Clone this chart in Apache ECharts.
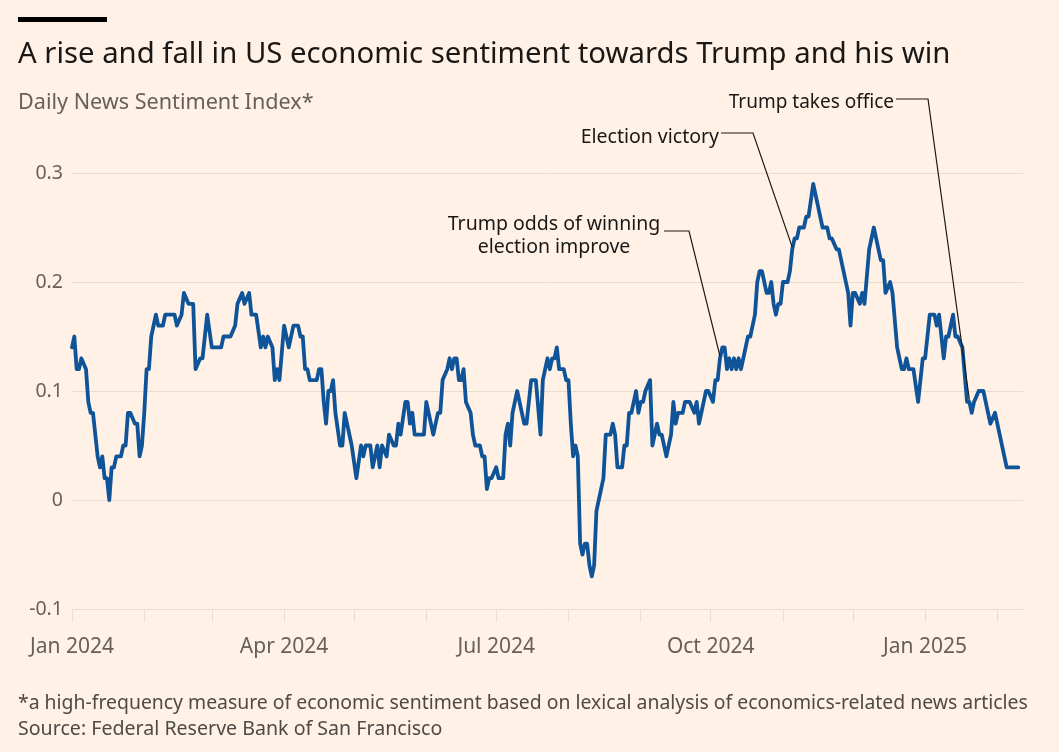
<!DOCTYPE html>
<html><head><meta charset="utf-8">
<script src="https://cdn.jsdelivr.net/npm/echarts@6/dist/echarts.min.js"></script>
<style>html,body{margin:0;padding:0;background:#FFF1E5;} #c{width:1059px;height:752px;}</style>
</head><body><div id="c"></div>
<script>
// ---------- DATA ----------
const dates = [
'2024-01-01','2024-01-02','2024-01-03','2024-01-04','2024-01-05','2024-01-07','2024-01-08','2024-01-09','2024-01-10','2024-01-12',
'2024-01-13','2024-01-14','2024-01-15','2024-01-16','2024-01-17','2024-01-18','2024-01-19','2024-01-20','2024-01-22','2024-01-23',
'2024-01-24','2024-01-25','2024-01-26','2024-01-28','2024-01-29','2024-01-30','2024-01-31','2024-02-01','2024-02-02','2024-02-03',
'2024-02-04','2024-02-06','2024-02-07','2024-02-09','2024-02-10','2024-02-14','2024-02-15','2024-02-17','2024-02-18','2024-02-20',
'2024-02-22','2024-02-23','2024-02-25','2024-02-26','2024-02-27','2024-02-28','2024-03-01','2024-03-05','2024-03-06','2024-03-09',
'2024-03-11','2024-03-12','2024-03-14','2024-03-15','2024-03-17','2024-03-18','2024-03-20','2024-03-22','2024-03-23','2024-03-24',
'2024-03-25','2024-03-27','2024-03-28','2024-03-29','2024-03-30','2024-04-01','2024-04-03','2024-04-05','2024-04-07','2024-04-08',
'2024-04-09','2024-04-10','2024-04-11','2024-04-12','2024-04-15','2024-04-16','2024-04-17','2024-04-18','2024-04-19','2024-04-20',
'2024-04-21','2024-04-22','2024-04-23','2024-04-25','2024-04-26','2024-04-27','2024-04-28','2024-04-30','2024-05-02','2024-05-04',
'2024-05-05','2024-05-06','2024-05-08','2024-05-09','2024-05-11','2024-05-12','2024-05-13','2024-05-15','2024-05-16','2024-05-18',
'2024-05-19','2024-05-20','2024-05-21','2024-05-23','2024-05-24','2024-05-25','2024-05-26','2024-05-27','2024-05-31','2024-06-01',
'2024-06-02','2024-06-04','2024-06-05','2024-06-06','2024-06-07','2024-06-08','2024-06-10','2024-06-11','2024-06-12','2024-06-13',
'2024-06-14','2024-06-15','2024-06-16','2024-06-17','2024-06-18','2024-06-20','2024-06-21','2024-06-22','2024-06-24','2024-06-25',
'2024-06-26','2024-06-27','2024-06-28','2024-06-29','2024-07-01','2024-07-02','2024-07-04','2024-07-05','2024-07-06','2024-07-07',
'2024-07-08','2024-07-09','2024-07-10','2024-07-11','2024-07-13','2024-07-14','2024-07-15','2024-07-16','2024-07-18','2024-07-20',
'2024-07-21','2024-07-22','2024-07-23','2024-07-24','2024-07-25','2024-07-26','2024-07-27','2024-07-28','2024-07-30','2024-07-31',
'2024-08-01','2024-08-02','2024-08-03','2024-08-04','2024-08-05','2024-08-06','2024-08-07','2024-08-08','2024-08-09','2024-08-10',
'2024-08-11','2024-08-12','2024-08-13','2024-08-14','2024-08-16','2024-08-17','2024-08-19','2024-08-20','2024-08-21','2024-08-22',
'2024-08-24','2024-08-25','2024-08-26','2024-08-27','2024-08-28','2024-08-30','2024-08-31','2024-09-01','2024-09-02','2024-09-03',
'2024-09-05','2024-09-06','2024-09-08','2024-09-09','2024-09-10','2024-09-12','2024-09-14','2024-09-15','2024-09-16','2024-09-17',
'2024-09-19','2024-09-20','2024-09-22','2024-09-24','2024-09-25','2024-09-26','2024-09-29','2024-09-30','2024-10-02','2024-10-03',
'2024-10-04','2024-10-05','2024-10-06','2024-10-07','2024-10-08','2024-10-09','2024-10-10','2024-10-11','2024-10-12','2024-10-13',
'2024-10-14','2024-10-15','2024-10-17','2024-10-18','2024-10-19','2024-10-20','2024-10-21','2024-10-22','2024-10-23','2024-10-25',
'2024-10-26','2024-10-27','2024-10-28','2024-10-29','2024-10-30','2024-10-31','2024-11-01','2024-11-03','2024-11-04','2024-11-05',
'2024-11-06','2024-11-07','2024-11-08','2024-11-10','2024-11-11','2024-11-12','2024-11-14','2024-11-16','2024-11-18','2024-11-20',
'2024-11-21','2024-11-22','2024-11-24','2024-11-25','2024-11-27','2024-11-29','2024-11-30','2024-12-01','2024-12-02','2024-12-04',
'2024-12-05','2024-12-06','2024-12-08','2024-12-10','2024-12-12','2024-12-13','2024-12-14','2024-12-15','2024-12-17','2024-12-18',
'2024-12-20','2024-12-22','2024-12-23','2024-12-24','2024-12-25','2024-12-27','2024-12-29','2024-12-31','2025-01-01','2025-01-03',
'2025-01-05','2025-01-06','2025-01-07','2025-01-09','2025-01-10','2025-01-11','2025-01-13','2025-01-14','2025-01-15','2025-01-17',
'2025-01-19','2025-01-20','2025-01-21','2025-01-22','2025-01-24','2025-01-26','2025-01-29','2025-01-31','2025-02-02','2025-02-05',
'2025-02-10'
];
const values = [
0.14,0.15,0.12,0.12,0.13,0.12,0.09,0.08,0.08,0.04,
0.03,0.04,0.02,0.02,0.00,0.03,0.03,0.04,0.04,0.05,
0.05,0.08,0.08,0.07,0.07,0.04,0.05,0.08,0.12,0.12,
0.15,0.17,0.16,0.16,0.17,0.17,0.16,0.17,0.19,0.18,
0.18,0.12,0.13,0.13,0.15,0.17,0.14,0.14,0.15,0.15,
0.16,0.18,0.19,0.18,0.19,0.17,0.17,0.14,0.15,0.14,
0.15,0.14,0.11,0.12,0.11,0.16,0.14,0.16,0.16,0.15,
0.15,0.12,0.12,0.11,0.11,0.12,0.12,0.09,0.07,0.10,
0.10,0.11,0.08,0.05,0.05,0.08,0.07,0.05,0.02,0.05,
0.04,0.05,0.05,0.03,0.05,0.03,0.05,0.04,0.06,0.05,
0.05,0.07,0.06,0.09,0.09,0.07,0.08,0.06,0.06,0.09,
0.08,0.06,0.07,0.08,0.08,0.11,0.12,0.13,0.12,0.13,
0.13,0.11,0.11,0.12,0.09,0.08,0.06,0.05,0.05,0.04,
0.04,0.01,0.02,0.02,0.03,0.02,0.02,0.06,0.07,0.05,
0.08,0.09,0.10,0.09,0.07,0.07,0.09,0.11,0.11,0.06,
0.11,0.12,0.13,0.12,0.13,0.13,0.14,0.12,0.12,0.11,
0.11,0.07,0.04,0.05,0.04,-0.04,-0.05,-0.04,-0.04,-0.06,
-0.07,-0.06,-0.01,0.00,0.02,0.06,0.06,0.07,0.06,0.03,
0.03,0.05,0.05,0.08,0.08,0.10,0.08,0.09,0.09,0.10,
0.11,0.05,0.07,0.06,0.06,0.04,0.06,0.09,0.07,0.08,
0.08,0.09,0.09,0.08,0.09,0.07,0.10,0.10,0.09,0.11,
0.11,0.13,0.14,0.14,0.12,0.13,0.12,0.13,0.12,0.13,
0.12,0.13,0.15,0.15,0.16,0.17,0.20,0.21,0.21,0.19,
0.19,0.20,0.18,0.17,0.18,0.18,0.20,0.20,0.21,0.23,
0.24,0.24,0.25,0.25,0.26,0.26,0.29,0.27,0.25,0.25,
0.24,0.24,0.23,0.23,0.21,0.19,0.16,0.19,0.19,0.18,
0.19,0.18,0.23,0.25,0.23,0.22,0.22,0.19,0.20,0.19,
0.14,0.12,0.12,0.13,0.12,0.12,0.09,0.13,0.13,0.17,
0.17,0.16,0.17,0.13,0.15,0.15,0.17,0.15,0.15,0.14,
0.09,0.09,0.08,0.09,0.10,0.10,0.07,0.08,0.06,0.03,
0.03
];
const yTicks = [-0.1, 0, 0.1, 0.2, 0.3];
const tickMonths = ['2024-01-01','2024-02-01','2024-03-01','2024-04-01','2024-05-01','2024-06-01','2024-07-01',
  '2024-08-01','2024-09-01','2024-10-01','2024-11-01','2024-12-01','2025-01-01','2025-02-01'];
const labelMonths = ['2024-01-01','2024-04-01','2024-07-01','2024-10-01','2025-01-01'];
const monthNames = ['Jan','Feb','Mar','Apr','May','Jun','Jul','Aug','Sep','Oct','Nov','Dec'];
const axisRange = ['2024-01-01','2025-02-12'];
const annoTexts = ['Trump odds of winning\nelection improve', 'Election victory', 'Trump takes office'];
const annoDates = ['2024-10-05', '2024-11-05', '2025-01-20'];
const annoValues = [0.132, 0.232, 0.092];

const titleText = 'A rise and fall in US economic sentiment towards Trump and his win';
const subtitleText = 'Daily News Sentiment Index*';
const noteText = '*a high-frequency measure of economic sentiment based on lexical analysis of economics-related news articles';
const sourceText = 'Source: Federal Reserve Bank of San Francisco';

// ---------- LAYOUT ----------
const FONT = '"Noto Sans", sans-serif';
const annoLayout = [
  {tx: 554, ty: 236, align: 'center', size: 19.5, elbow: [[664, 231], [689, 231]]},
  {tx: 719, ty: 137, align: 'right',  size: 19.5, elbow: [[721, 133], [753, 133]]},
  {tx: 894, ty: 103, align: 'right',  size: 19,   elbow: [[896, 99], [928, 99]]}
];

function ts(s) { const p = s.split('-').map(Number); return Date.UTC(p[0], p[1]-1, p[2]); }
const seriesData = dates.map((d, i) => [ts(d), values[i]]);

const chart = echarts.init(document.getElementById('c'), null, {renderer: 'canvas'});
const gridColor = '#E8DCD1';
chart.setOption({
  backgroundColor: '#FFF1E5',
  animation: false,
  grid: {left: 72, right: 36, top: 173, bottom: 143, containLabel: false},
  xAxis: {
    type: 'value',
    min: ts(axisRange[0]), max: ts(axisRange[1]),
    axisLine: {show: false, onZero: false},
    splitLine: {show: false},
    axisTick: {show: true, customValues: tickMonths.map(ts), length: 13, lineStyle: {color: gridColor, width: 1}},
    axisLabel: {
      customValues: labelMonths.map(ts),
      margin: 28,
      color: '#66605C', fontSize: 21, fontFamily: FONT,
      formatter: v => { const d = new Date(v); return monthNames[d.getUTCMonth()] + ' ' + d.getUTCFullYear(); }
    }
  },
  yAxis: {
    type: 'value', min: yTicks[0], max: yTicks[yTicks.length-1], interval: 0.1,
    axisLine: {show: false}, axisTick: {show: false},
    splitLine: {show: true, lineStyle: {color: gridColor, width: 1}},
    axisLabel: {
      margin: 9, color: '#66605C', fontSize: 19.5, fontFamily: FONT,
      formatter: v => { const r = Math.round(v*10)/10; return r === 0 ? '0' : String(r); }
    }
  },
  series: [{
    type: 'line', data: seriesData, showSymbol: false, symbol: 'none',
    lineStyle: {color: '#0F5499', width: 3.8, join: 'round', cap: 'round'},
    z: 3
  }]
});

const graphics = [
  {type: 'rect', shape: {x: 18, y: 17, width: 89, height: 5}, style: {fill: '#000'}},
  {type: 'text', x: 18, y: 55, style: {text: titleText, fill: '#1A1817', font: '29.3px ' + FONT, textVerticalAlign: 'middle'}},
  {type: 'text', x: 18, y: 103, style: {text: subtitleText, fill: '#66605C', font: '21.6px ' + FONT, textVerticalAlign: 'middle'}},
  {type: 'text', x: 18, y: 703, style: {text: noteText, fill: '#4E4A47', font: '19.4px ' + FONT, textVerticalAlign: 'middle'}},
  {type: 'text', x: 18, y: 729, style: {text: sourceText, fill: '#4E4A47', font: '19.6px ' + FONT, textVerticalAlign: 'middle'}}
];
annoTexts.forEach((t, i) => {
  const L = annoLayout[i];
  const end = chart.convertToPixel({gridIndex: 0}, [ts(annoDates[i]), annoValues[i]]);
  graphics.push({type: 'polyline', z: 10, shape: {points: [L.elbow[0], L.elbow[1], end]}, style: {stroke: '#1A1817', lineWidth: 1.2, fill: null}});
  graphics.push({type: 'text', z: 10, x: L.tx, y: L.ty, style: {text: t, fill: '#1A1817', font: L.size + 'px ' + FONT, align: L.align, textAlign: L.align, textVerticalAlign: 'middle', lineHeight: 23}});
});
chart.setOption({graphic: graphics});
</script>
</body></html>
